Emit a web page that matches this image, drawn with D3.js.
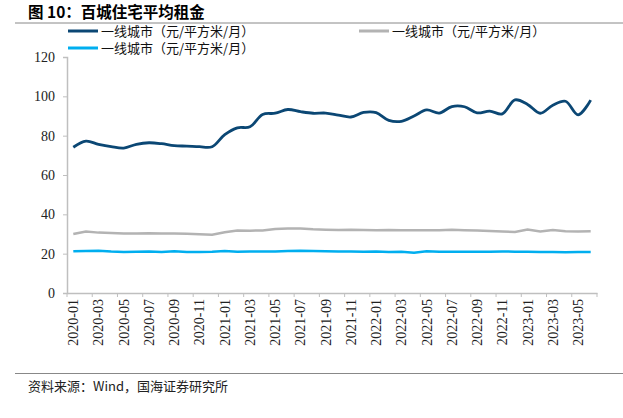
<!DOCTYPE html>
<html>
<head>
<meta charset="utf-8">
<script src="https://cdn.jsdelivr.net/npm/d3@7"></script>
<style>
  body { margin: 0; background: #fff; }
  text { font-family: "Liberation Serif", "Times New Roman", serif; }
  .cn { font-family: "Noto Sans CJK SC", sans-serif; }
</style>
</head>
<body>
<div id="chart"></div>
<script>
// 月份
var months = [];
for (var y = 2020; y <= 2023; y++) {
  for (var m = 1; m <= 12; m++) {
    if (y == 2023 && m > 6) break;
    months.push(y + "-" + (m < 10 ? "0" + m : m));
  }
}

// 系列名称
var seriesNames = ["一线城市（元/平方米/月）", "一线城市（元/平方米/月）", "一线城市（元/平方米/月）"];

// 读图估计的数据
var darkValues = [74.1, 77.2, 75.6, 74.4, 73.7, 75.6, 76.4, 75.9, 74.9, 74.7, 74.4, 74.4,
                  80.5, 84.0, 84.5, 90.8, 91.4, 93.3, 92.2, 91.4, 91.5, 90.5, 89.5, 91.8,
                  91.7, 87.8, 87.3, 90.0, 93.1, 91.5, 94.8, 94.7, 91.6, 92.5, 91.1, 98.2,
                  95.9, 91.4, 95.5, 97.5, 90.6, 98.1];
var greyValues = [30.0, 31.3, 30.7, 30.5, 30.3, 30.2, 30.4, 30.2, 30.2, 30.1, 29.9, 29.6,
                  30.9, 31.8, 31.7, 31.8, 32.6, 32.8, 32.8, 32.4, 32.2, 32.0, 32.1, 32.0,
                  31.9, 32.0, 31.9, 31.9, 31.9, 31.9, 32.1, 31.9, 31.8, 31.5, 31.3, 31.0,
                  32.3, 31.3, 32.0, 31.4, 31.3, 31.4];
var blueValues = [21.2, 21.4, 21.5, 21.1, 20.9, 21.0, 21.1, 20.9, 21.2, 20.9, 20.9, 21.0,
                  21.3, 21.0, 21.1, 21.1, 21.1, 21.3, 21.5, 21.3, 21.2, 21.1, 21.1, 21.0,
                  21.1, 20.9, 21.0, 20.5, 21.2, 21.0, 21.0, 21.0, 21.0, 21.0, 21.1, 21.0,
                  21.0, 20.9, 20.9, 20.7, 20.8, 20.8];
var yTicks = [0, 20, 40, 60, 80, 100, 120];

var colors = ["#0b4774", "#b3b3b3", "#00aeef"];
var serif = "'Liberation Serif', 'Times New Roman', serif";

const W = 623, H = 418;
const margin = {top: 57, right: 26, bottom: 125, left: 67};
const width = W - margin.left - margin.right;
const height = H - margin.top - margin.bottom;

var svg = d3.select("#chart").append("svg")
    .attr("width", W)
    .attr("height", H);

// 标题
svg.append("text").attr("class", "cn")
    .attr("x", 28).attr("y", 18)
    .attr("font-size", 15.5).attr("font-weight", "bold")
    .text("图 10：百城住宅平均租金");
svg.append("line")
    .attr("x1", 15).attr("x2", W).attr("y1", 23).attr("y2", 23)
    .attr("stroke", "#888").attr("stroke-width", 1);

// 图例
var legendPos = [[68, 31], [359, 31], [68, 48]];
seriesNames.forEach(function (name, i) {
  var p = legendPos[i];
  svg.append("line")
      .attr("x1", p[0]).attr("x2", p[0] + 30).attr("y1", p[1]).attr("y2", p[1])
      .attr("stroke", colors[i]).attr("stroke-width", 3);
  svg.append("text").attr("class", "cn")
      .attr("x", p[0] + 33).attr("y", p[1] + 4.5)
      .attr("font-size", 13).attr("fill", "#111")
      .text(name);
});

var g = svg.append("g")
    .attr("transform", "translate(" + margin.left + "," + margin.top + ")");

var x = d3.scaleBand().domain(months).range([0, width]);
var yS = d3.scaleLinear().domain([0, 120]).range([height, 0]);

// Y轴
var yAxis = g.append("g")
    .call(d3.axisLeft(yS).tickValues(yTicks).tickSize(4).tickPadding(8));
yAxis.attr("font-family", serif);
yAxis.selectAll("path, line").attr("stroke", "#bfbfbf");
yAxis.select("path").attr("stroke-width", 1.5);
yAxis.selectAll("text").attr("font-size", 14).attr("fill", "#222")
    .style("font-family", serif);

// X轴
var xAxis = g.append("g")
    .attr("transform", "translate(0," + height + ")")
    .call(d3.axisBottom(x).tickValues(months.filter(function (d, i) { return i % 2 == 0; }))
          .tickSize(0).tickSizeOuter(0));
xAxis.attr("font-family", serif);
xAxis.select("path").attr("stroke", "#bfbfbf").attr("stroke-width", 1.5);
xAxis.selectAll("text")
    .attr("transform", "rotate(-90)")
    .attr("x", -6).attr("y", 0).attr("dy", "0.35em")
    .attr("text-anchor", "end")
    .attr("font-size", 14).attr("fill", "#222")
    .style("font-family", serif);
// 两个月一个刻度
var tickPos = months.filter(function (d, i) { return i % 2 == 0; }).map(function (d) { return x(d); });
tickPos.push(width);
xAxis.selectAll(".bnd").data(tickPos).enter().append("line")
    .attr("class", "bnd")
    .attr("x1", function (d) { return d; }).attr("x2", function (d) { return d; })
    .attr("y1", 0).attr("y2", 4)
    .attr("stroke", "#bfbfbf");

// 折线
var cx = function (d, i) { return x(months[i]) + x.bandwidth() / 2; };
var straight = d3.line().x(cx).y(function (d) { return yS(d); });
var smooth = d3.line().x(cx).y(function (d) { return yS(d); }).curve(d3.curveCatmullRom.alpha(0.5));

g.append("path").datum(greyValues)
    .attr("d", straight).attr("fill", "none")
    .attr("stroke", colors[1]).attr("stroke-width", 2.5);
g.append("path").datum(blueValues)
    .attr("d", straight).attr("fill", "none")
    .attr("stroke", colors[2]).attr("stroke-width", 2.5);
g.append("path").datum(darkValues)
    .attr("d", smooth).attr("fill", "none")
    .attr("stroke", colors[0]).attr("stroke-width", 2.8);

// 资料来源
svg.append("line")
    .attr("x1", 15).attr("x2", W).attr("y1", 373.5).attr("y2", 373.5)
    .attr("stroke", "#888").attr("stroke-width", 1);
svg.append("text").attr("class", "cn")
    .attr("x", 28).attr("y", 391)
    .attr("font-size", 13).attr("fill", "#222")
    .text("资料来源：Wind，国海证券研究所");
</script>
</body>
</html>
